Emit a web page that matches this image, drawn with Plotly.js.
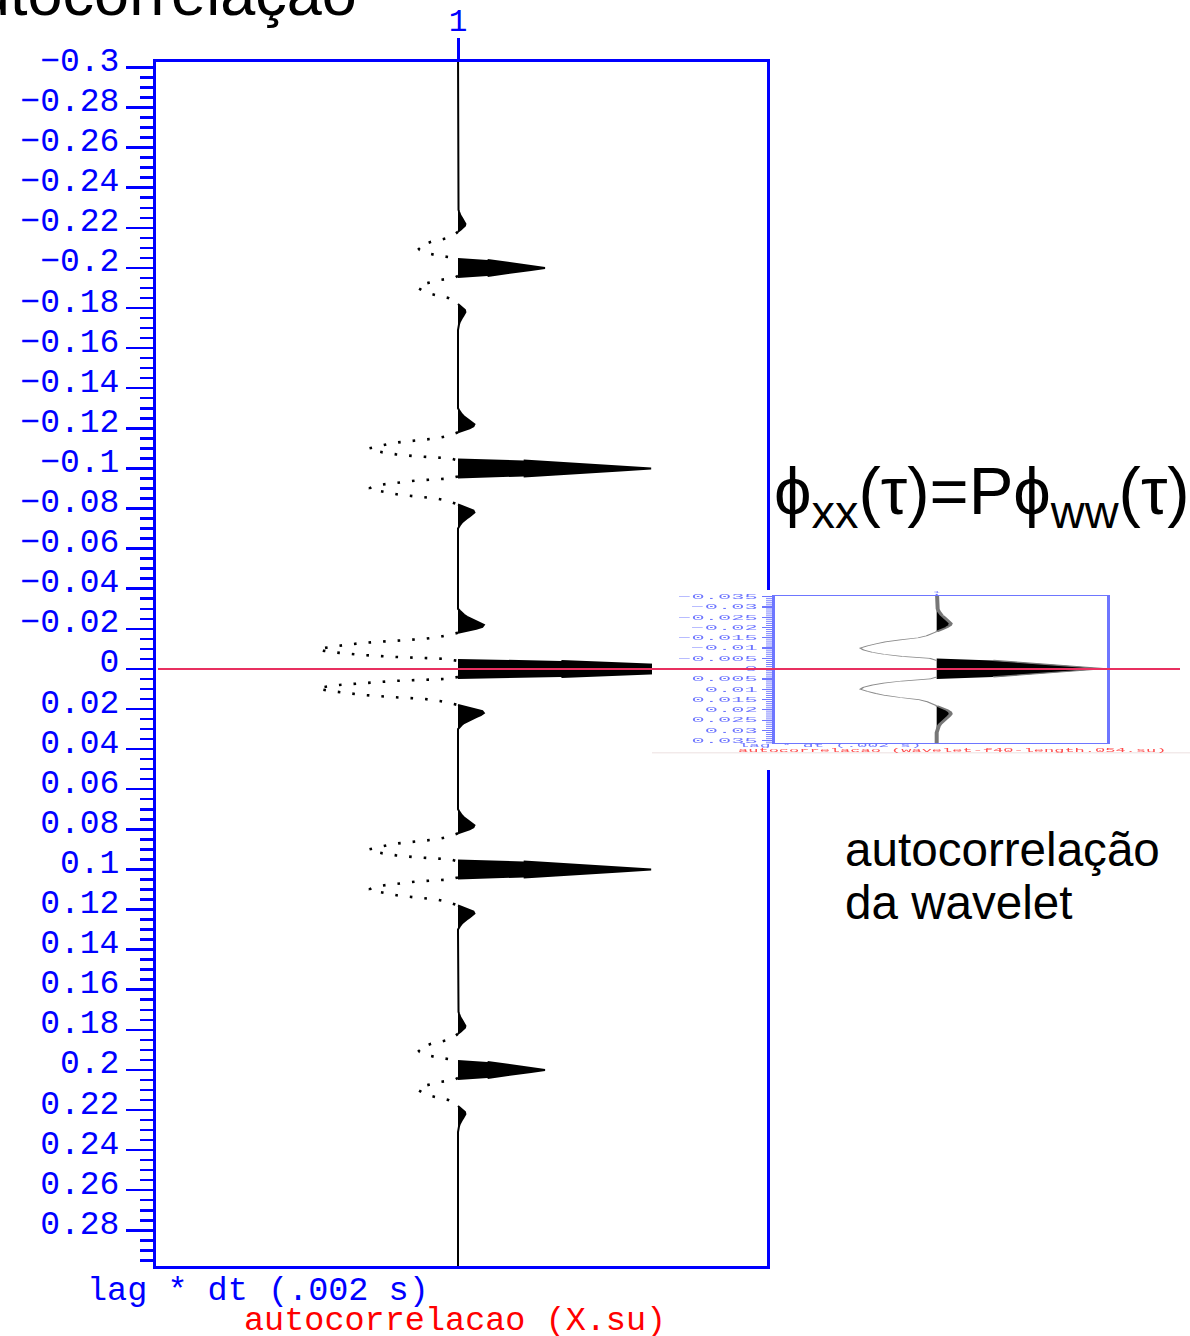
<!DOCTYPE html>
<html>
<head>
<meta charset="utf-8">
<script src="https://cdn.plot.ly/plotly-3.0.1.min.js"></script>
<style>
  html, body { margin: 0; padding: 0; background: #fff; }
  #wrap { position: relative; width: 1190px; height: 1336px; overflow: hidden; }
  #main { position: absolute; left: 0; top: 0; width: 1190px; height: 1336px; }
  #insetBox { position: absolute; left: 652px; top: 590px; width: 538px; height: 180px;
              overflow: hidden; background: #fff; filter: blur(0.7px); }
  #inset { position: absolute; left: 0; top: 0; width: 538px; height: 600px;
           transform: scaleY(0.3); transform-origin: 0 0; }
  #overlay { position: absolute; left: 0; top: 0; width: 1190px; height: 1336px; pointer-events: none; }
</style>
</head>
<body>
<div id="wrap">
  <div id="main"></div>
  <div id="insetBox"><div id="inset"></div></div>
  <div id="overlay"></div>
</div>
<script>
// ---- data -------------------------------------------------------------
// lag step of the drawn wiggle (s)
const lagStep = 0.001;
// wavelet autocorrelation, 1 at zero lag, one value per ms of lag (0 .. 30 ms)
const waveletAcf = [1.00, 0.84, 0.68, 0.52, 0.34, -0.04, -0.21, -0.32, -0.39, -0.44,
                    -0.46, -0.42, -0.37, -0.31, -0.22, -0.11, -0.06, -0.03, 0.00, 0.03,
                    0.06, 0.08, 0.085, 0.075, 0.06, 0.045, 0.03, 0.02, 0.012, 0.006, 0.0];
// lags (s) of the repeated wavelet in the autocorrelation of X.su and their amplitudes
const eventLags = [-0.2, -0.1, 0, 0.1, 0.2];
const eventAmps = [0.286, 0.635, 1.0, 0.635, 0.286];

// tick labels of the lag axis
const yTickVals = [-0.3, -0.28, -0.26, -0.24, -0.22, -0.2, -0.18, -0.16, -0.14, -0.12, -0.1,
                   -0.08, -0.06, -0.04, -0.02, 0, 0.02, 0.04, 0.06, 0.08, 0.1, 0.12, 0.14,
                   0.16, 0.18, 0.2, 0.22, 0.24, 0.26, 0.28];
const yTickText = ['−0.3', '−0.28', '−0.26', '−0.24', '−0.22', '−0.2', '−0.18', '−0.16', '−0.14',
                   '−0.12', '−0.1', '−0.08', '−0.06', '−0.04', '−0.02', '0', '0.02', '0.04',
                   '0.06', '0.08', '0.1', '0.12', '0.14', '0.16', '0.18', '0.2', '0.22', '0.24',
                   '0.26', '0.28'];
const traceTickVals = [0];
const traceTickText = ['1'];

// small wavelet panel tick labels
const insetTickVals = [-0.035, -0.03, -0.025, -0.02, -0.015, -0.01, -0.005, 0,
                       0.005, 0.01, 0.015, 0.02, 0.025, 0.03, 0.035];
const insetTickText = ['−0.035', '−0.03', '−0.025', '−0.02', '−0.015', '−0.01', '−0.005', '0',
                       '0.005', '0.01', '0.015', '0.02', '0.025', '0.03', '0.035'];

// ---- build wiggle traces -----------------------------------------------
function acfAt(dtLag) {
  const j = Math.round(Math.abs(dtLag) / lagStep);
  return j < waveletAcf.length ? waveletAcf[j] : 0;
}

// positive lobes are filled, zero / positive parts drawn solid,
// negative lobes drawn as a separate (dotted) line that starts and ends on the baseline
function wiggle(lagMin, lagMax, lagsE, ampsE) {
  const lags = [], vals = [];
  const n = Math.round((lagMax - lagMin) / lagStep);
  for (let i = 0; i <= n; i++) {
    const t = +(lagMin + i * lagStep).toFixed(4);
    let v = 0;
    for (let k = 0; k < lagsE.length; k++) v += ampsE[k] * acfAt(t - lagsE[k]);
    lags.push(t);
    vals.push(v);
  }
  const pos = vals.map(v => Math.max(v, 0));
  const solid = vals.map(v => (v >= 0 ? v : null));
  const neg = vals.map((v, i) => {
    if (v < 0) return v;
    const prev = i > 0 ? vals[i - 1] : 0, next = i < vals.length - 1 ? vals[i + 1] : 0;
    return (prev < 0 || next < 0) ? 0 : null;
  });
  return { lags, pos, solid, neg };
}

const blue = '#0000ff';
const red = '#ff0000';
const mono = 'Liberation Mono, DejaVu Sans Mono, monospace';
const sans = 'Liberation Sans, Arial, sans-serif';

// ---- main wiggle plot ---------------------------------------------------
const W = 1190, H = 1336, L = 156, R = 423, T = 62, B = 70;
const plotW = W - L - R, plotH = H - T - B;
const mx = px => (px - L) / plotW;
const my = py => (H - B - py) / plotH;
const lagRange = [0.2978, -0.3027];

const wm = wiggle(-0.31, 0.31, eventLags, eventAmps);

const mainData = [
  { x: wm.pos, y: wm.lags, mode: 'lines', line: { width: 0, color: 'black' },
    fill: 'tozerox', fillcolor: 'black', hoverinfo: 'skip' },
  { x: wm.solid, y: wm.lags, mode: 'lines', line: { width: 2, color: 'black' },
    connectgaps: false, hoverinfo: 'skip' },
  { x: wm.neg, y: wm.lags, mode: 'lines', line: { width: 2.6, color: 'black', dash: '2.6px,12px' },
    connectgaps: false, hoverinfo: 'skip' }
];

const mainLayout = {
  width: W, height: H,
  margin: { l: L, r: R, t: T, b: B },
  paper_bgcolor: '#fff', plot_bgcolor: '#fff',
  showlegend: false,
  xaxis: {
    side: 'top', range: [-0.993, 1.016],
    tickmode: 'array', tickvals: traceTickVals, ticktext: traceTickText,
    ticks: 'outside', ticklen: 21, tickwidth: 3, tickcolor: blue,
    ticklabelstandoff: -5,
    showline: true, linecolor: blue, linewidth: 3, mirror: true,
    showgrid: false, zeroline: false,
    tickfont: { family: mono, size: 31, color: blue }
  },
  yaxis: {
    range: lagRange,
    tickmode: 'array', tickvals: yTickVals, ticktext: yTickText,
    ticks: 'outside', ticklen: 27, tickwidth: 2.5, tickcolor: blue,
    minor: { tickmode: 'linear', tick0: 0, dtick: 0.005, ticks: 'outside',
             ticklen: 13, tickwidth: 2.5, tickcolor: blue, showgrid: false },
    ticklabelshift: 8,
    showline: true, linecolor: blue, linewidth: 3, mirror: true,
    showgrid: false, zeroline: false,
    tickfont: { family: mono, size: 33, color: blue }
  },
  annotations: [
    { text: 'lag * dt (.002 s)', xref: 'paper', yref: 'paper', x: mx(85), y: my(1291),
      xanchor: 'left', yanchor: 'middle', showarrow: false,
      font: { family: mono, size: 33.5, color: blue } },
    { text: 'autocorrelacao (X.su)', xref: 'paper', yref: 'paper', x: mx(242), y: my(1321),
      xanchor: 'left', yanchor: 'middle', showarrow: false,
      font: { family: mono, size: 33.5, color: red } }
  ]
};

Plotly.newPlot('main', mainData, mainLayout, { staticPlot: true });

// ---- small wavelet autocorrelation panel ----------------------------------
const iW = 538, iH = 600, iL = 123, iR = 83, iT = 20, iB = 90;
const ix = px => (px - iL) / (iW - iL - iR);
const iy = py => (iH - iB - py) / (iH - iT - iB);
const ws = wiggle(-0.04, 0.04, [0], [1]);
const lightBlue = '#6e76ff';

const insetData = [
  { x: ws.pos, y: ws.lags, mode: 'lines', line: { width: 0, color: 'black' },
    fill: 'tozerox', fillcolor: 'black', hoverinfo: 'skip' },
  { x: ws.solid, y: ws.lags, mode: 'lines', line: { width: 4, color: '#777' },
    connectgaps: false, hoverinfo: 'skip' },
  { x: ws.neg, y: ws.lags, mode: 'lines', line: { width: 2.4, color: '#8a8a8a' },
    connectgaps: false, hoverinfo: 'skip' }
];

const insetLayout = {
  width: iW, height: iH,
  margin: { l: iL, r: iR, t: iT, b: iB },
  paper_bgcolor: '#fff', plot_bgcolor: '#fff',
  showlegend: false,
  xaxis: {
    side: 'top', range: [-0.974, 1.026],
    tickmode: 'array', tickvals: traceTickVals, ticktext: traceTickText,
    ticks: 'outside', ticklen: 4, tickwidth: 2, tickcolor: lightBlue,
    showline: true, linecolor: lightBlue, linewidth: 3, mirror: true,
    showgrid: false, zeroline: false,
    tickfont: { family: mono, size: 11, color: lightBlue }
  },
  yaxis: {
    range: [0.0361, -0.0353],
    tickmode: 'array', tickvals: insetTickVals, ticktext: insetTickText,
    ticks: 'outside', ticklen: 10, tickwidth: 4, tickcolor: lightBlue,
    minor: { tickmode: 'linear', tick0: 0, dtick: 0.001, ticks: 'outside',
             ticklen: 6, tickwidth: 3, tickcolor: lightBlue, showgrid: false },
    showline: true, linecolor: lightBlue, linewidth: 3, mirror: true,
    showgrid: false, zeroline: false,
    tickfont: { family: mono, size: 22, color: lightBlue }
  },
  shapes: [
    { type: 'line', xref: 'paper', yref: 'paper', x0: ix(0), x1: ix(538), y0: iy(543), y1: iy(543),
      line: { color: '#e6d6d6', width: 3 } }
  ],
  annotations: [
    { text: 'lag * dt (.002 s)', xref: 'paper', yref: 'paper', x: ix(178), y: iy(519),
      xanchor: 'center', yanchor: 'middle', showarrow: false,
      font: { family: mono, size: 18, color: lightBlue } },
    { text: 'autocorrelacao (wavelet-f40-length.054.su)', xref: 'paper', yref: 'paper',
      x: ix(300), y: iy(535), xanchor: 'center', yanchor: 'middle', showarrow: false,
      font: { family: mono, size: 17, color: '#ff4a4a' } }
  ]
};

Plotly.newPlot('inset', insetData, insetLayout, { staticPlot: true });

// ---- overlay: zero-lag marker line and slide text ---------------------------
const ox = px => px / W;
const oy = py => (H - B - py) / plotH;

const overlayLayout = {
  width: W, height: H,
  margin: { l: 0, r: 0, t: T, b: B },
  paper_bgcolor: 'rgba(0,0,0,0)', plot_bgcolor: 'rgba(0,0,0,0)',
  showlegend: false,
  xaxis: { visible: false, range: [0, 1] },
  yaxis: { visible: false, range: lagRange },
  shapes: [
    { type: 'line', xref: 'paper', yref: 'y', x0: ox(158), x1: ox(1180), y0: 0, y1: 0,
      line: { color: 'rgb(232,48,96)', width: 2 } }
  ],
  annotations: [
    { text: 'autocorrelação', xref: 'paper', yref: 'paper', x: ox(359), y: oy(-7),
      xanchor: 'right', yanchor: 'middle', showarrow: false,
      font: { family: sans, size: 63, color: 'black' } },
    { text: 'ϕ<sub>xx</sub>(τ)=Pϕ<sub>ww</sub>(τ)', xref: 'paper', yref: 'paper',
      x: ox(772), y: oy(496), xanchor: 'left', yanchor: 'middle', showarrow: false,
      font: { family: sans, size: 67, color: 'black' } },
    { text: 'autocorrelação', xref: 'paper', yref: 'paper', x: ox(843), y: oy(849.5),
      xanchor: 'left', yanchor: 'middle', showarrow: false,
      font: { family: sans, size: 47.6, color: 'black' } },
    { text: 'da wavelet', xref: 'paper', yref: 'paper', x: ox(843), y: oy(902.5),
      xanchor: 'left', yanchor: 'middle', showarrow: false,
      font: { family: sans, size: 47.6, color: 'black' } }
  ]
};

Plotly.newPlot('overlay', [], overlayLayout, { staticPlot: true });
</script>
</body>
</html>
